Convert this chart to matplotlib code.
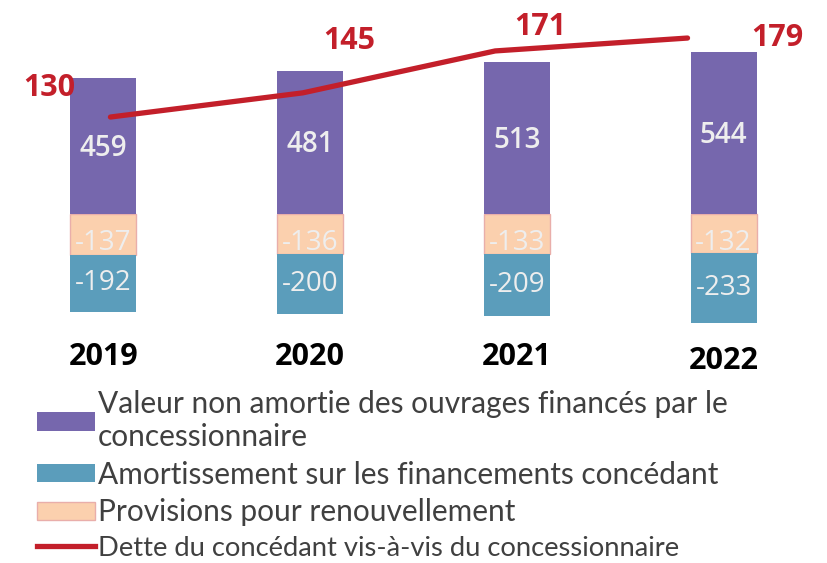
import matplotlib.pyplot as plt
import matplotlib.transforms as mtransforms
from matplotlib.patches import Patch
from matplotlib.lines import Line2D
import numpy as np

years = ["2019", "2020", "2021", "2022"]
valeur = [459, 481, 513, 544]
provisions = [-137, -136, -133, -132]
amortissement = [-192, -200, -209, -233]
dette = [130, 145, 171, 179]

labels = [
    "Valeur non amortie des ouvrages financés par le\nconcessionnaire",
    "Amortissement sur les financements concédant",
    "Provisions pour renouvellement",
    "Dette du concédant vis-à-vis du concessionnaire",
]

PURPLE = "#7667ad"
TEAL = "#5b9dbb"
PINK = "#fbd0ae"
PINK_EDGE = "#e9aeaa"
RED = "#c31f2a"
LABEL_WHITE = "#eeeeee"

plt.rcParams["font.family"] = ["Open Sans", "DejaVu Sans"]

fig = plt.figure(figsize=(8.27, 5.63), dpi=100)
ax = fig.add_axes([0.0, 0.405, 1.0, 0.595])
x = np.arange(len(years))
w = 0.32

ax.bar(x, valeur, w, color=PURPLE, zorder=2)
ax.bar(x, provisions, w, color=PINK, edgecolor=PINK_EDGE, linewidth=1, zorder=1)
ax.bar(x, amortissement, w, bottom=provisions, color=TEAL, zorder=2)

for i in range(len(years)):
    ax.text(x[i], valeur[i] / 2 - 8, str(valeur[i]), ha="center", va="center",
            color=LABEL_WHITE, fontsize=20, fontweight="semibold", zorder=3)
    ax.text(x[i], provisions[i] / 2 - 30, str(provisions[i]), ha="center", va="center",
            color=LABEL_WHITE, fontsize=20, zorder=1.5)
    ax.text(x[i], provisions[i] + amortissement[i] / 2, str(amortissement[i]),
            ha="center", va="center", color=LABEL_WHITE, fontsize=20, zorder=3)

ax.set_xlim(-0.5, 3.5)
ax.set_ylim(-407, 720)
ax.set_xticks(x)
ax.set_xticklabels(years, fontsize=22, fontweight="bold", color="black")
ax.tick_params(axis="x", length=0, pad=5)
last = ax.get_xticklabels()[-1]
last.set_transform(last.get_transform() + mtransforms.ScaledTranslation(0, -4 / 100, fig.dpi_scale_trans))
ax.set_yticks([])
for s in ax.spines.values():
    s.set_visible(False)

# line sits on its own axes (different horizontal spacing than the bars)
ax2 = fig.add_axes([0.0, 0.405, 1.0, 0.595])
ax2.patch.set_visible(False)
ax2.plot(np.arange(len(dette)), dette, color=RED, linewidth=3.8, solid_capstyle="round")
ax2.set_xlim(-0.574, 3.725)
ax2.set_ylim(-5.2, 202.6)
ax2.axis("off")

offsets = [(-61, 29), (46, 52), (45, 24), (90, 0)]
for i, v in enumerate(dette):
    ax2.annotate(str(v), (i, v), xytext=offsets[i], textcoords="offset pixels",
                 ha="center", va="center", color=RED, fontsize=22, fontweight="bold")

handles = [
    Patch(facecolor=PURPLE),
    Patch(facecolor=TEAL),
    Patch(facecolor=PINK, edgecolor=PINK_EDGE),
    Line2D([0], [0], color=RED, linewidth=3.8),
]
leg = fig.legend(handles, labels, loc="upper left", bbox_to_anchor=(0.045, 0.307),
                 frameon=False, fontsize=21.5, handlelength=1.95, handleheight=0.57,
                 handletextpad=0.07, labelspacing=0.33, borderpad=0, borderaxespad=0)
for t in leg.get_texts():
    t.set_color("#404040")
    t.set_family(["Lato", "DejaVu Sans"])
leg.get_texts()[3].set_fontsize(19.7)

fig.savefig("out.png", dpi=100)
